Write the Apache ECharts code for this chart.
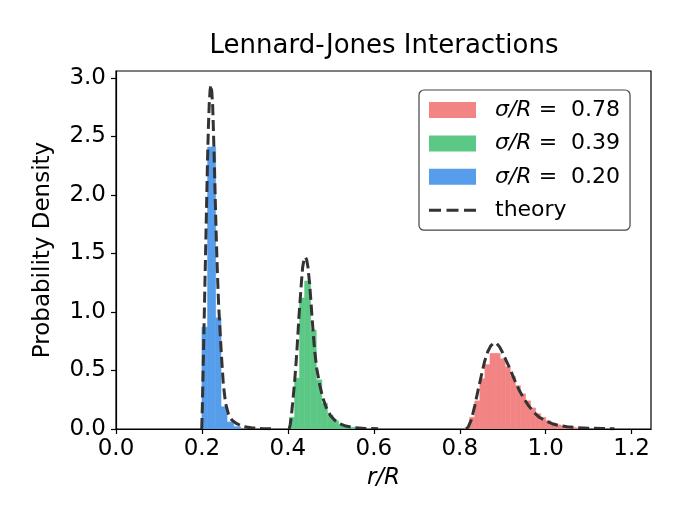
<!DOCTYPE html>
<html><head><meta charset="utf-8">
<script src="https://cdn.jsdelivr.net/npm/echarts@6/dist/echarts.min.js"></script>
<style>html,body{margin:0;padding:0;background:#fff}#c{width:700px;height:532px}</style>
</head><body><div id="c"></div>
<script>
// ---- data ----
const xTicks = [0, 0.2, 0.4, 0.6, 0.8, 1.0, 1.2];
const yTicks = [0, 0.5, 1.0, 1.5, 2.0, 2.5, 3.0];
const sigmaLabels = ['0.78', '0.39', '0.20'];
const seriesNames = ['σ/R = 0.78', 'σ/R = 0.39', 'σ/R = 0.20'];
const theoryName = 'theory';

// histogram bin edges and densities
const redEdges = [0.8113, 0.8231, 0.8349, 0.8467, 0.8585, 0.8703, 0.8821, 0.8939, 0.9057, 0.9175, 0.9293, 0.9411, 0.9529, 0.9647, 0.9765, 0.9883, 1.0001, 1.0119, 1.0237, 1.0355, 1.0473, 1.0591, 1.0709, 1.0827, 1.0945];
const redHeights = [0.01, 0.10, 0.24, 0.43, 0.55, 0.646, 0.646, 0.60, 0.53, 0.45, 0.37, 0.30, 0.24, 0.18, 0.13, 0.10, 0.07, 0.05, 0.035, 0.025, 0.017, 0.012, 0.008, 0.005];
const greenEdges = [0.4036, 0.4156, 0.4273, 0.4390, 0.4530, 0.4660, 0.4790, 0.4920, 0.5050, 0.5180, 0.5310, 0.5440, 0.5570, 0.5700];
const greenHeights = [0.10, 0.435, 1.12, 1.265, 0.845, 0.42, 0.22, 0.12, 0.07, 0.04, 0.025, 0.015, 0.01];
const blueEdges = [0.2000, 0.2132, 0.2319, 0.2444, 0.2584, 0.2740, 0.2900];
const blueHeights = [0.87, 2.41, 0.95, 0.19, 0.06, 0.02];

// theory curves
const redTheoryX = [0.815, 0.820, 0.827, 0.835, 0.843, 0.851, 0.858, 0.865, 0.872, 0.879, 0.886, 0.893, 0.900, 0.908, 0.916, 0.924, 0.932, 0.940, 0.950, 0.960, 0.972, 0.985, 1.000, 1.015, 1.030, 1.050, 1.075, 1.100, 1.130, 1.160];
const redTheoryY = [0, 0.02, 0.08, 0.20, 0.34, 0.47, 0.58, 0.66, 0.71, 0.735, 0.73, 0.70, 0.65, 0.585, 0.52, 0.45, 0.38, 0.32, 0.255, 0.20, 0.145, 0.10, 0.068, 0.045, 0.030, 0.019, 0.011, 0.007, 0.004, 0.002];
const greenTheoryX = [0.403, 0.4055, 0.4078, 0.411, 0.4156, 0.4185, 0.421, 0.4235, 0.4257, 0.4285, 0.4312, 0.4343, 0.4375, 0.4405, 0.4435, 0.4467, 0.4506, 0.4535, 0.4561, 0.4592, 0.4623, 0.467, 0.474, 0.481, 0.4896, 0.499, 0.509, 0.520, 0.535, 0.555, 0.580, 0.610];
const greenTheoryY = [0, 0.04, 0.10, 0.22, 0.40, 0.54, 0.67, 0.82, 0.96, 1.10, 1.24, 1.38, 1.45, 1.47, 1.45, 1.385, 1.24, 1.10, 0.96, 0.81, 0.67, 0.52, 0.38, 0.27, 0.18, 0.115, 0.075, 0.045, 0.025, 0.012, 0.005, 0.002];
const blueTheoryX = [0.1995, 0.201, 0.203, 0.205, 0.207, 0.209, 0.211, 0.213, 0.215, 0.217, 0.219, 0.221, 0.223, 0.225, 0.227, 0.229, 0.2312, 0.2335, 0.236, 0.239, 0.2421, 0.2455, 0.2498, 0.255, 0.2615, 0.270, 0.281, 0.295, 0.315, 0.340, 0.370];
const blueTheoryY = [0, 0.20, 0.55, 0.90, 1.25, 1.60, 1.95, 2.30, 2.58, 2.78, 2.90, 2.94, 2.88, 2.76, 2.52, 2.25, 1.93, 1.62, 1.33, 1.05, 0.84, 0.62, 0.38, 0.22, 0.13, 0.075, 0.045, 0.022, 0.010, 0.004, 0.002];

const colors = ['#F28484', '#5CC886', '#569DEB'];
const theoryColor = '#333333';
const FONT = 'DejaVu Sans';

// ---- build ----
function binData(edges, heights) {
  return heights.map((h, i) => [edges[i], edges[i + 1], h]);
}
function zip(xs, ys) { return xs.map((x, i) => [x, ys[i]]); }
function renderBar(params, api) {
  const p0 = api.coord([api.value(0), api.value(2)]);
  const p1 = api.coord([api.value(1), 0]);
  const fill = api.visual('color');
  return {
    type: 'rect',
    shape: { x: p0[0], y: p0[1], width: p1[0] - p0[0], height: p1[1] - p0[1] },
    style: { fill: fill, stroke: fill, lineWidth: 0.6 }
  };
}
const hist = [[redEdges, redHeights], [greenEdges, greenHeights], [blueEdges, blueHeights]];
const theories = [[redTheoryX, redTheoryY], [greenTheoryX, greenTheoryY], [blueTheoryX, blueTheoryY]];

const series = [];
hist.forEach((h, i) => {
  series.push({
    type: 'custom', name: seriesNames[i], renderItem: renderBar,
    data: binData(h[0], h[1]), encode: { x: [0, 1], y: 2 },
    itemStyle: { color: colors[i] }, z: 2, silent: true
  });
});
theories.forEach((t) => {
  series.push({
    type: 'line', name: theoryName, data: zip(t[0], t[1]),
    showSymbol: false, symbol: 'none', z: 3, silent: true,
    itemStyle: { color: theoryColor },
    lineStyle: { color: theoryColor, width: 3, type: [11, 4.8] }
  });
});

const dashIcon = 'path://M0,6.5h12v3h-12z M17.5,6.5h12v3h-12z M35,6.5h12v3h-12z M0,0h0.01v0.01h-0.01z M46.99,15.99h0.01v0.01h-0.01z';

const chart = echarts.init(document.getElementById('c'), null, { renderer: 'canvas' });
chart.setOption({
  animation: false,
  backgroundColor: '#fff',
  title: {
    text: 'Lennard-Jones Interactions', left: 379, top: 28, textAlign: 'center',
    textStyle: { fontFamily: FONT, fontSize: 26, fontWeight: 'normal', color: '#000' }
  },
  grid: { left: 116, right: 49, top: 71, bottom: 103, show: true, borderColor: '#000', borderWidth: 1.2, backgroundColor: 'transparent' },
  legend: {
    orient: 'vertical', left: 419, top: 90, padding: [8, 10, 8, 10],
    itemGap: 9.4, itemWidth: 47, itemHeight: 16, selectedMode: false,
    backgroundColor: '#fff', borderColor: '#444', borderWidth: 1.2, borderRadius: 5,
    data: [
      { name: seriesNames[0], icon: 'rect' },
      { name: seriesNames[1], icon: 'rect' },
      { name: seriesNames[2], icon: 'rect' },
      { name: theoryName, icon: dashIcon }
    ],
    formatter: function (name) {
      const i = seriesNames.indexOf(name);
      if (i < 0) return '{g| }{t|' + name + '}';
      return '{g| }{i|σ/R}{t| =  ' + sigmaLabels[i] + '}';
    },
    textStyle: {
      fontFamily: FONT, fontSize: 22, color: '#000', lineHeight: 24,
      rich: {
        g: { width: 14, fontSize: 22, fontFamily: FONT },
        i: { fontStyle: 'italic', fontSize: 22, fontFamily: FONT, color: '#000' },
        t: { fontSize: 22, fontFamily: FONT, color: '#000' }
      }
    }
  },
  xAxis: {
    type: 'value', min: 0, max: 1.245, z: 10,
    axisLine: { show: true, onZero: false, lineStyle: { color: '#000', width: 1.2 } },
    axisTick: { show: true, length: 5, lineStyle: { color: '#000', width: 1.2 }, customValues: xTicks },
    axisLabel: { customValues: xTicks, formatter: v => v.toFixed(1), fontFamily: FONT, fontSize: 23, color: '#000', margin: 9 },
    splitLine: { show: false },
    name: 'r/R', nameLocation: 'middle', nameGap: 38,
    nameTextStyle: { fontFamily: FONT, fontSize: 23, fontStyle: 'italic', color: '#000' }
  },
  yAxis: {
    type: 'value', min: 0, max: 3.06, z: 10,
    axisLine: { show: true, onZero: false, lineStyle: { color: '#000', width: 1.2 } },
    axisTick: { show: true, length: 5, lineStyle: { color: '#000', width: 1.2 }, customValues: yTicks },
    axisLabel: { customValues: yTicks, formatter: v => v.toFixed(1), fontFamily: FONT, fontSize: 23, color: '#000', margin: 10 },
    splitLine: { show: false },
    name: 'Probability Density', nameLocation: 'middle', nameGap: 61,
    nameTextStyle: { fontFamily: FONT, fontSize: 23, color: '#000' }
  },
  series: series
});
</script>
</body></html>
